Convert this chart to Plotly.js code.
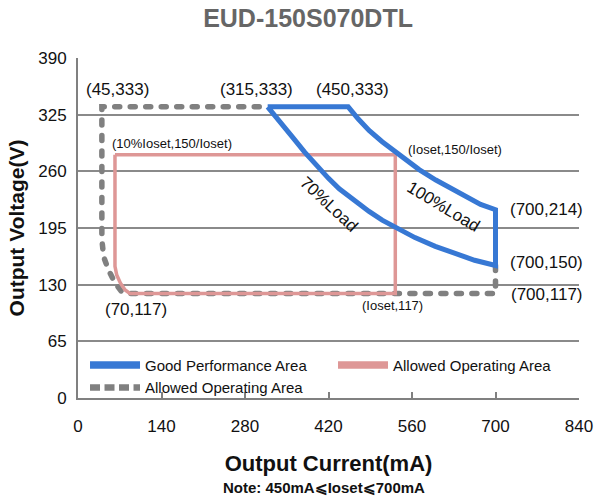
<!DOCTYPE html>
<html>
<head>
<meta charset="utf-8">
<script src="https://cdn.plot.ly/plotly-3.0.1.min.js"></script>
<style>
html,body{margin:0;padding:0;background:#fff;}
#chart{width:597px;height:500px;}
</style>
</head>
<body>
<div id="chart"></div>
<script>
// ---- data ----
// Good Performance Area: top edge, 100% load curve, 70% load curve
const goodTopCurrent = [318, 453];
const goodTopVoltage = [334, 334];
const load100Current = [453, 470, 488, 510, 532, 550, 572, 600, 621, 650, 675, 700];
const load100Voltage = [334, 320, 307, 294, 282, 273, 262, 250, 242, 231, 222, 216];
const load70Current  = [318, 340, 360, 380, 400, 420, 438, 460, 488, 510, 532, 565, 599, 630, 665, 700];
const load70Voltage  = [334, 316, 299, 282, 266, 252, 240, 228, 214, 204, 196, 184, 174, 166, 158, 152];

// Allowed Operating Area (solid, pink)
const allowedCurrent = [62, 62, 65, 71, 79, 87, 532, 532, 62];
const allowedVoltage = [279, 151, 141, 132, 124, 120, 120, 279, 279];

// Allowed Operating Area (dashed, gray)
const dashedCurrent = [700, 700, 82, 73, 62, 51, 43, 40, 40, 318];
const dashedVoltage = [152, 120, 120, 122, 132, 147, 162, 182, 334, 334];

const xTicks = [0, 140, 280, 420, 560, 700, 840];
const yTicks = [0, 65, 130, 195, 260, 325, 390];

const seriesNames = ['Good Performance Area', 'Allowed Operating Area', 'Allowed Operating Area'];
const pointLabels = ['(45,333)', '(315,333)', '(450,333)', '(10%Ioset,150/Ioset)', '(Ioset,150/Ioset)',
                     '(700,214)', '(700,150)', '(700,117)', '(Ioset,117)', '(70,117)', '70%Load', '100%Load'];

// ---- build traces ----
const goodX = goodTopCurrent.concat(load100Current.slice(1), [700], load70Current.slice().reverse());
const goodY = goodTopVoltage.concat(load100Voltage.slice(1), [152], load70Voltage.slice().reverse());

const FONT = 'Liberation Sans, Arial, sans-serif';
const BLUE = '#3778d4', PINK = '#de9796', GRAY = '#808080';

const traces = [
  {x: dashedCurrent, y: dashedVoltage, mode: 'lines', name: seriesNames[2], legendrank: 3,
   line: {color: GRAY, width: 5.5, dash: '5px,10.5px'}, hoverinfo: 'skip'},
  {x: allowedCurrent, y: allowedVoltage, mode: 'lines', name: seriesNames[1], legendrank: 2,
   line: {color: PINK, width: 3.5}, hoverinfo: 'skip'},
  {x: goodX, y: goodY, mode: 'lines', name: seriesNames[0], legendrank: 1,
   line: {color: BLUE, width: 5}, hoverinfo: 'skip'}
];

function ann(i, x, y, size, extra) {
  return Object.assign({text: pointLabels[i], x: x, y: y, xref: 'x', yref: 'y', showarrow: false,
    font: {family: FONT, size: size, color: '#111'}}, extra || {});
}

const annotations = [
  ann(0, 66.7, 354, 17),
  ann(1, 300, 354, 17),
  ann(2, 461, 354, 17),
  ann(3, 157.6, 292.3, 13),
  ann(4, 632.7, 285, 13),
  ann(5, 786, 216, 17),
  ann(6, 786, 155.3, 17),
  ann(7, 786, 118.7, 17),
  ann(8, 527, 106, 13),
  ann(9, 97.3, 101.5, 17),
  ann(10, 421, 222, 17, {textangle: 43}),
  ann(11, 612, 220, 17, {textangle: 31}),
  {text: 'Note: 450mA⩽Ioset⩽700mA', xref: 'paper', yref: 'paper', x: 0.492, y: -0.262,
   xanchor: 'center', yanchor: 'middle', showarrow: false,
   font: {family: FONT, size: 15, color: '#111', weight: 'bold'}}
];

const layout = {
  width: 597, height: 500,
  margin: {l: 78, r: 18, t: 58, b: 102},
  paper_bgcolor: '#fff', plot_bgcolor: '#fff',
  font: {family: FONT, color: '#111'},
  title: {text: '<b>EUD-150S070DTL</b>', xref: 'container', x: 0.516, xanchor: 'center',
          yref: 'container', y: 0.963, yanchor: 'middle',
          font: {family: FONT, size: 25, color: '#666'}},
  xaxis: {range: [0, 840], tickvals: xTicks, ticktext: xTicks.map(String),
          showgrid: false, zeroline: false, showline: true, linecolor: GRAY, linewidth: 2,
          ticks: 'inside', ticklen: 6, tickwidth: 2, tickcolor: GRAY,
          tickfont: {family: FONT, size: 17, color: '#111'}, ticklabelstandoff: 12,
          title: {text: '<b>Output Current(mA)</b>', font: {family: FONT, size: 22, color: '#111'}, standoff: 20}},
  yaxis: {range: [0, 390], tickvals: yTicks, ticktext: yTicks.map(String),
          showgrid: true, gridcolor: '#8a8a8a', gridwidth: 2, zeroline: false,
          showline: true, linecolor: GRAY, linewidth: 2, ticks: '',
          tickfont: {family: FONT, size: 17, color: '#111'}, ticklabelstandoff: 6,
          title: {text: '<b>Output Voltage(V)</b>', font: {family: FONT, size: 21, color: '#111'}, standoff: 8}},
  showlegend: true,
  legend: {orientation: 'h', x: 0.014, xanchor: 'left', y: 0.145, yanchor: 'top',
           entrywidth: 183, entrywidthmode: 'pixels', itemwidth: 50,
           bgcolor: 'rgba(0,0,0,0)', font: {family: FONT, size: 15, color: '#111'},
           traceorder: 'normal', tracegroupgap: 0},
  annotations: annotations
};

Plotly.newPlot('chart', traces, layout, {staticPlot: true, displayModeBar: false}).then(function () {
  document.querySelectorAll('path.js-line').forEach(function (p) {
    var d = p.style.strokeDasharray;
    var dashed = d && d !== 'none';
    if (p.closest('.legend')) {
      p.style.strokeWidth = dashed ? '6.5px' : '7.5px';
      if (dashed) p.style.strokeDasharray = '10px,4.5px';
    } else if (dashed) {
      p.style.strokeLinecap = 'round';
    }
  });
});
</script>
</body>
</html>
